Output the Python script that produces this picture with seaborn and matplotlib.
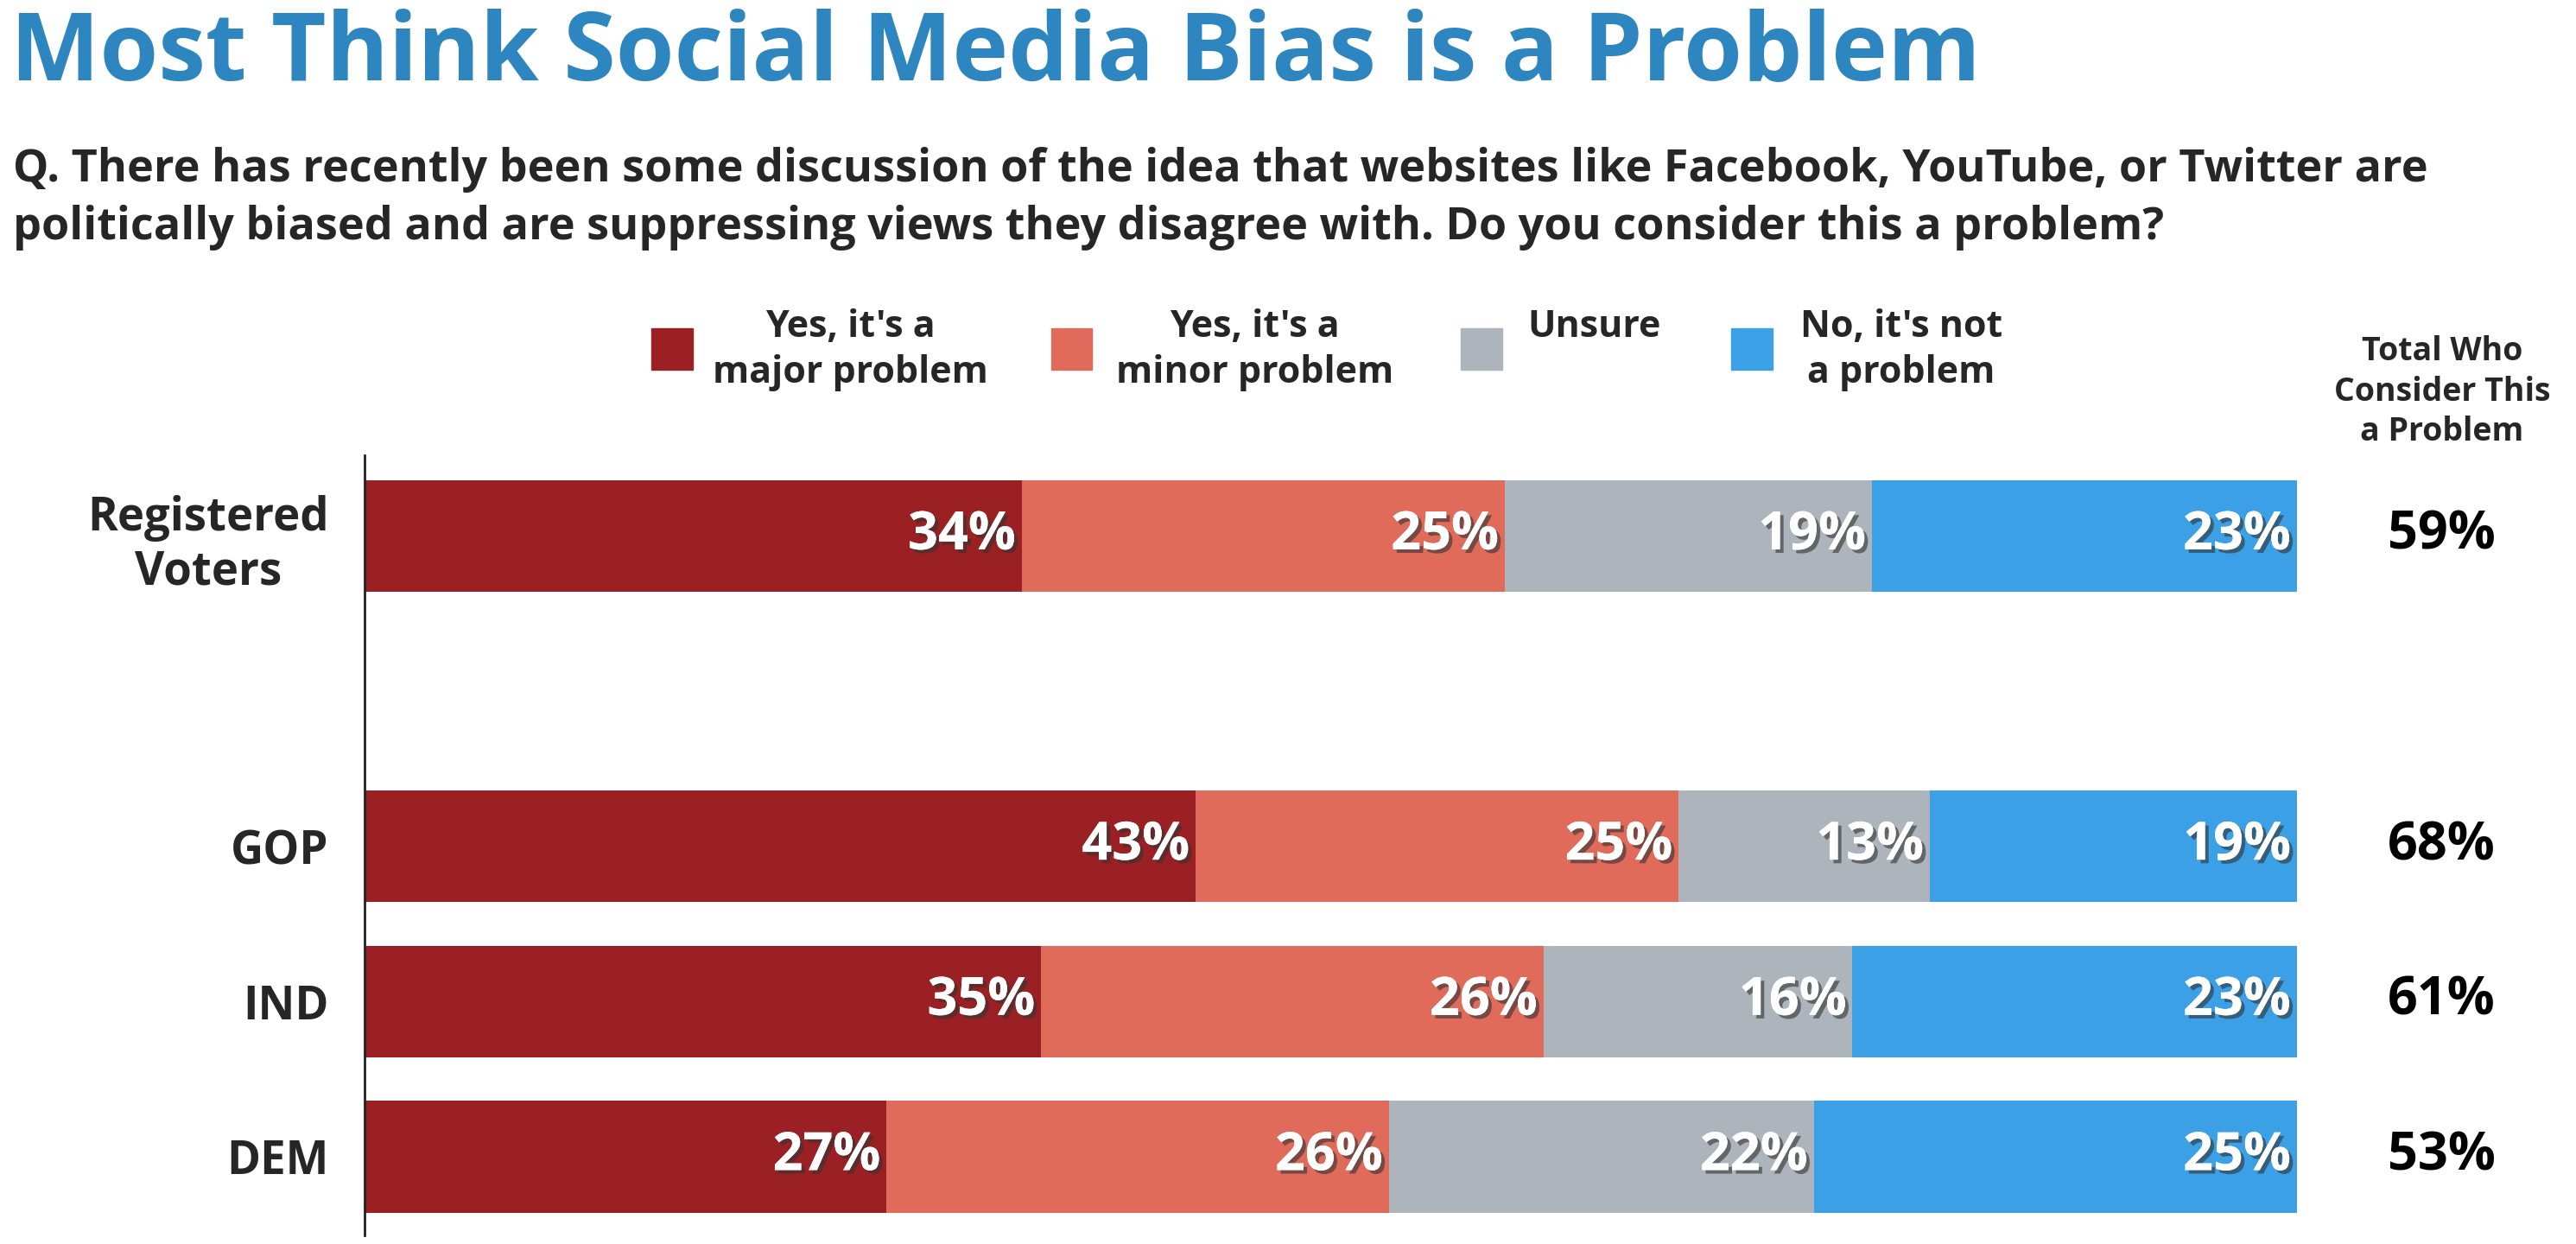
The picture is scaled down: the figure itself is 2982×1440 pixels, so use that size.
import matplotlib
matplotlib.use("Agg")
import matplotlib.pyplot as plt
import matplotlib.patheffects as pe
import seaborn as sns
import pandas as pd

groups = ["Registered\nVoters", "GOP", "IND", "DEM"]
positions = [0, 2, 3, 4]
major = [34, 43, 35, 27]
minor = [25, 25, 26, 26]
unsure = [19, 13, 16, 22]
no_problem = [23, 19, 23, 25]
totals = ["59%", "68%", "61%", "53%"]
series_names = ["Yes, it's a\nmajor problem", "Yes, it's a\nminor problem", "Unsure", "No, it's not\na problem"]
colors = ["#9B2023", "#E06B5A", "#ADB4BB", "#3BA0E6"]

sns.set_style("white")
plt.rcParams['font.family'] = ['Open Sans', 'DejaVu Sans']
plt.rcParams['font.weight'] = 'bold'

fig = plt.figure(figsize=(29.82, 14.4), dpi=100)
ax = fig.add_axes([0.1416, 0.0066, 0.75, 0.6275])

df = pd.DataFrame({"pos": positions, "major": major, "minor": minor,
                   "unsure": unsure, "no": no_problem})
cols = ["major", "minor", "unsure", "no"]
left = [0] * len(df)
shadow = [pe.withSimplePatchShadow(offset=(3, -3), shadow_rgbFace="#333333", alpha=0.6), pe.Normal()]
for c, col in zip(cols, colors):
    ax.barh(df["pos"], df[c], left=left, height=0.72, color=col, edgecolor="none")
    for p, l, v in zip(df["pos"], left, df[c]):
        end = min(l + v, 100)
        ax.text(end - 0.3, p, f"{v}%", ha="right", va="center", color="white",
                fontsize=44, fontweight="bold", path_effects=shadow)
    left = [a + b for a, b in zip(left, df[c])]

ax.set_xlim(0, 100)
ax.set_ylim(4.51, -0.52)
ax.set_yticks(positions)
ax.set_yticklabels(groups, fontsize=38, fontweight="bold", ha="right", multialignment="center")
ax.tick_params(axis="y", length=0, pad=30)
ax.set_xticks([])
for s in ["top", "right", "bottom"]:
    ax.spines[s].set_visible(False)
ax.spines["left"].set_color("#222222")
ax.spines["left"].set_linewidth(2)

for p, t in zip(positions, totals):
    ax.text(107.5, p, t, ha="center", va="center", fontsize=44, fontweight="bold", color="black")
fig.text(0.948, 0.685, "Total Who\nConsider This\na Problem", ha="center", va="center",
         fontsize=27, fontweight="bold", linespacing=1.3)

fig.text(0.004, 0.955, "Most Think Social Media Bias is a Problem", fontsize=79,
         fontweight="bold", color="#2E86C1", va="center")
fig.text(0.005, 0.84, "Q. There has recently been some discussion of the idea that websites like Facebook, YouTube, or Twitter are\n"
         "politically biased and are suppressing views they disagree with. Do you consider this a problem?",
         fontsize=37.5, fontweight="bold", va="center", linespacing=1.35)

# legend
rect_x = [0.253, 0.408, 0.567, 0.672]
text_x = [0.330, 0.487, 0.593, 0.738]
text_ha = ["center", "center", "left", "center"]
text_y = [0.719, 0.719, 0.737, 0.719]
for rx, tx, ha, ty, name, col in zip(rect_x, text_x, text_ha, text_y, series_names, colors):
    fig.patches.append(plt.Rectangle((rx, 0.703), 0.016, 0.033, transform=fig.transFigure,
                                     color=col, figure=fig))
    fig.text(tx, ty, name, ha=ha, va="center", fontsize=31, fontweight="bold", linespacing=1.3)

fig.savefig("out.png", dpi=100)
